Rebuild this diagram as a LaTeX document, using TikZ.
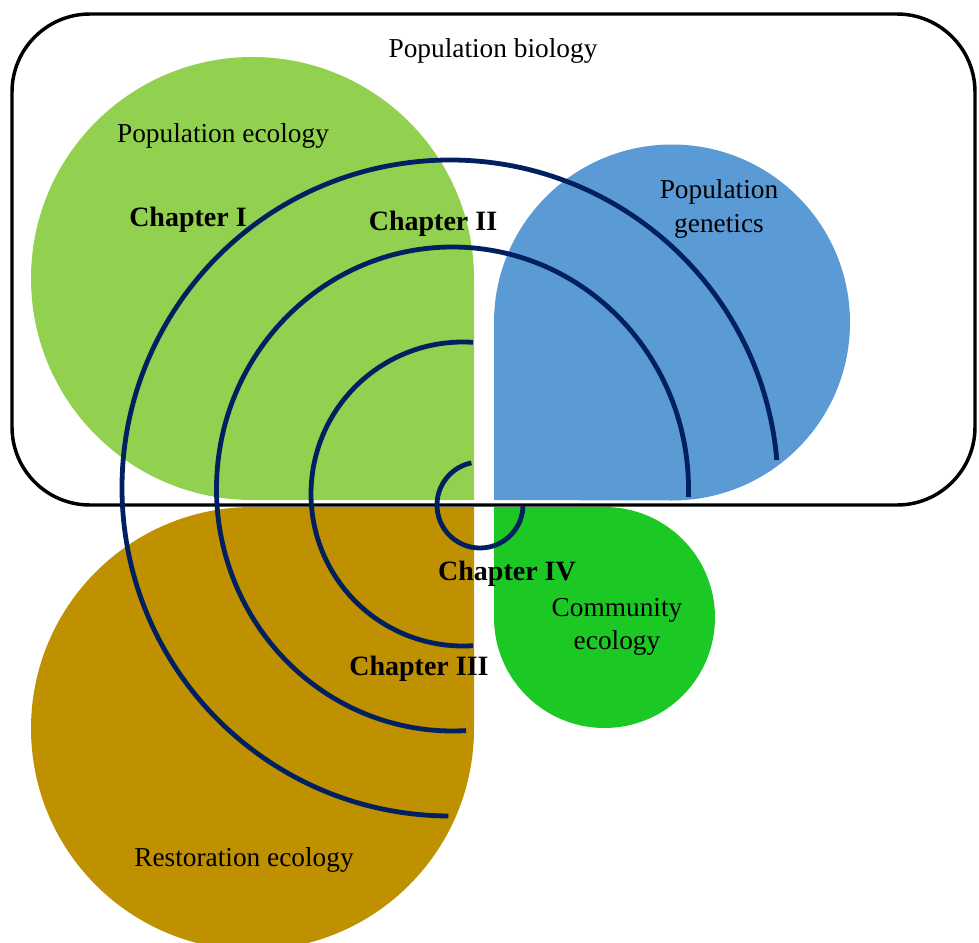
\documentclass[tikz,border=0pt]{standalone}
\usepackage{fontspec}
\setmainfont{Liberation Serif}
\usepackage{tikz}
\usetikzlibrary{positioning, calc}

\definecolor{ecogreen}{RGB}{146,208,80}
\definecolor{genblue}{RGB}{91,155,213}
\definecolor{restgold}{RGB}{191,144,0}
\definecolor{commgreen}{RGB}{28,200,36}
\definecolor{ringnavy}{RGB}{0,32,96}

\begin{document}
\begin{tikzpicture}[x=0.75pt, y=-0.75pt,
    area/.style={font=\fontsize{20.5}{25}\selectfont, align=center},
    chapter/.style={font=\fontsize{21}{25}\selectfont\bfseries},
    ring/.style={draw=ringnavy, line width=3.6pt}]
  \clip (0,0) rectangle (979,943);
  \fill[ecogreen] (474,500) -- (252.5,500) arc[start angle=90, end angle=360, radius=221.5] -- cycle;
  \fill[genblue] (494,500) -- (494,322.5) arc[start angle=180, end angle=450, radius=178] -- cycle;
  \fill[restgold] (474,507) -- (474,728.5) arc[start angle=0, end angle=270, radius=221.5] -- cycle;
  \fill[commgreen] (494,507) -- (604.5,507) arc[start angle=270, end angle=540, radius=110.5] -- cycle;
  \draw[line width=2.6pt, rounded corners=58.5pt] (12,14) rectangle (975,505);
  \draw[ring] (480,505) ++(-101.6:43) arc[start angle=-101.6, end angle=-359, radius=43];
  \draw[ring] (463,494) ++(-86.2:152) arc[start angle=-86.2, end angle=-273.8, radius=152];
  \draw[ring] (452.5,489) ++(1.9:236 and 242) arc[start angle=1.9, end angle=-273.3, x radius=236, y radius=242];
  \draw[ring] (450,488) ++(-4.9:328) arc[start angle=-4.9, end angle=-269.7, radius=328];
  \node[area] (biology) at (493,51) {Population biology};
  \node[area] (ecology) at (223,136) {Population ecology};
  \node[area] (genetics) at (719,209) {Population\\genetics};
  \node[area] (community) at (617,627) {Community\\ecology};
  \node[area] (restoration) at (244,860) {Restoration ecology};
  \node[chapter] (chI) at (188,220) {Chapter I};
  \node[chapter] (chII) at (433,224) {Chapter II};
  \node[chapter] (chIII) at (419,669) {Chapter III};
  \node[chapter] (chIV) at (507,574) {Chapter IV};
\end{tikzpicture}
\end{document}
